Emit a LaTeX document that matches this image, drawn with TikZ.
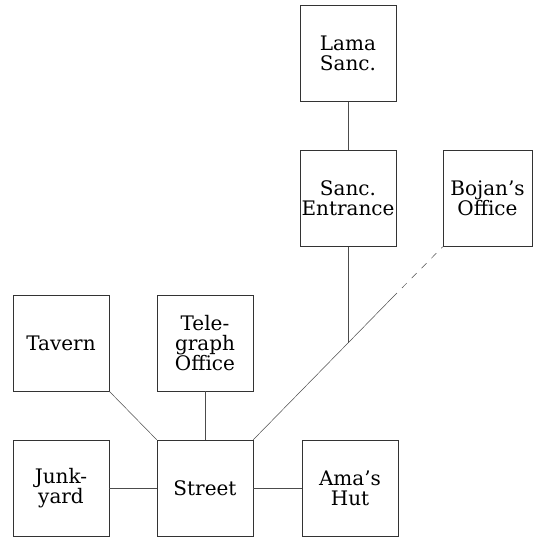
\documentclass[tikz,border=0pt]{standalone}
\usepackage{fontspec}
\setmainfont{DejaVu Serif}
\begin{document}
\begin{tikzpicture}[x=1pt, y=-1pt,
    room/.style={draw=black!80, line width=0.6pt, minimum width=96pt, minimum height=96pt,
      inner sep=0pt, align=center, font=\fontsize{20}{20}\selectfont},
    way/.style={black!70, line width=0.5pt}]
	\useasboundingbox (0,0) rectangle (533,538);

	%rooms
	\node[room] (lama) at (348,53.5) {Lama\\Sanc.};
	\node[room] (sanc) at (348,198.5) {Sanc.\\Entrance};
	\node[room, minimum width=89pt] (bojan) at (487.5,198.5) {Bojan's\\Office};
	\node[room] (tavern) at (61,343) {Tavern};
	\node[room] (tele) at (205,343) {Tele-\\graph\\Office};
	\node[room] (junk) at (61,488) {Junk-\\yard};
	\node[room] (street) at (205,488) {Street};
	\node[room] (ama) at (350,488) {Ama's\\Hut};

	%paths
	\coordinate (fork) at (348,343);
	\coordinate (gap) at (392,298);
	\draw[way] (lama) -- (sanc);
	\draw[way] (sanc) -- (fork);
	\draw[way] (street.north east) -- (fork) -- (gap);
	\draw[way, dash pattern=on 7pt off 7pt] (gap) -- (bojan.south west);
	\draw[way] (tavern.south east) -- (street.north west);
	\draw[way] (tele) -- (street);
	\draw[way] (junk) -- (street);
	\draw[way] (street) -- (ama);
\end{tikzpicture}
\end{document}
